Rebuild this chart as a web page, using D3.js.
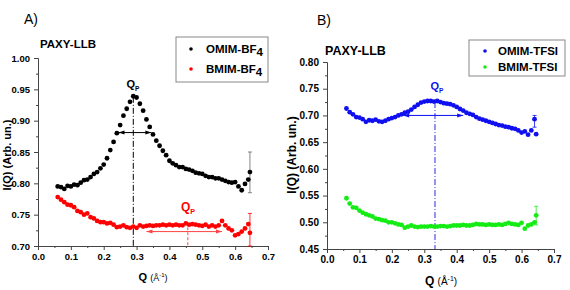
<!DOCTYPE html>
<html>
<head>
<meta charset="utf-8">
<script src="https://cdn.jsdelivr.net/npm/d3@7"></script>
<style>
  body { margin: 0; background: #fff; }
  text { font-family: "Liberation Sans", Arial, sans-serif; }
</style>
</head>
<body>
<div id="chart"></div>
<script>
// Q values (Å^-1), shared by all four curves
const q = [0.06, 0.07, 0.08, 0.09, 0.10, 0.11, 0.12, 0.13, 0.14, 0.15,
  0.16, 0.17, 0.18, 0.19, 0.20, 0.21, 0.22, 0.23, 0.24, 0.25,
  0.26, 0.27, 0.28, 0.29, 0.30, 0.31, 0.32, 0.33, 0.34, 0.35,
  0.36, 0.37, 0.38, 0.39, 0.40, 0.41, 0.42, 0.43, 0.44, 0.45,
  0.46, 0.47, 0.48, 0.49, 0.50, 0.51, 0.52, 0.53, 0.54, 0.55,
  0.56, 0.57, 0.58, 0.59, 0.60, 0.61, 0.62, 0.63, 0.64, 0.645];

// panel A
const omimBF4 = [0.795, 0.794, 0.791, 0.796, 0.795, 0.798, 0.797, 0.801, 0.805, 0.806,
  0.810, 0.815, 0.818, 0.824, 0.830, 0.840, 0.853, 0.866, 0.880, 0.893,
  0.908, 0.919, 0.930, 0.939, 0.937, 0.927, 0.916, 0.902, 0.890, 0.878,
  0.868, 0.860, 0.852, 0.845, 0.836, 0.832, 0.829, 0.826, 0.826, 0.823,
  0.822, 0.820, 0.817, 0.816, 0.815, 0.812, 0.810, 0.810, 0.808, 0.808,
  0.806, 0.804, 0.802, 0.801, 0.802, 0.795, 0.789, 0.799, 0.806, 0.818];
const bmimBF4 = [0.778, 0.774, 0.770, 0.766, 0.765, 0.762, 0.756, 0.754, 0.750, 0.752,
  0.746, 0.744, 0.740, 0.738, 0.738, 0.736, 0.737, 0.734, 0.730, 0.731,
  0.733, 0.730, 0.729, 0.731, 0.729, 0.733, 0.731, 0.732, 0.733, 0.732,
  0.733, 0.733, 0.734, 0.733, 0.734, 0.733, 0.734, 0.733, 0.733, 0.736,
  0.734, 0.735, 0.734, 0.733, 0.732, 0.734, 0.731, 0.733, 0.731, 0.733,
  0.740, 0.733, 0.728, 0.725, 0.717, 0.719, 0.723, 0.728, 0.735, 0.721];

// panel B
const omimTFSI = [0.713, 0.706, 0.702, 0.697, 0.696, 0.693, 0.688, 0.691, 0.690, 0.692,
  0.689, 0.688, 0.690, 0.693, 0.695, 0.697, 0.700, 0.702, 0.705, 0.707,
  0.711, 0.716, 0.720, 0.724, 0.726, 0.727, 0.727, 0.726, 0.727, 0.725,
  0.723, 0.722, 0.721, 0.719, 0.716, 0.712, 0.709, 0.705, 0.703, 0.701,
  0.697, 0.694, 0.692, 0.690, 0.688, 0.686, 0.684, 0.682, 0.681, 0.679,
  0.678, 0.676, 0.675, 0.672, 0.668, 0.670, 0.664, 0.672, 0.693, 0.665];
const bmimTFSI = [0.545, 0.535, 0.528, 0.527, 0.522, 0.518, 0.515, 0.513, 0.511, 0.507,
  0.506, 0.504, 0.503, 0.500, 0.500, 0.498, 0.496, 0.495, 0.490, 0.492,
  0.494, 0.492, 0.491, 0.492, 0.492, 0.492, 0.493, 0.492, 0.492, 0.493,
  0.493, 0.492, 0.493, 0.494, 0.494, 0.494, 0.495, 0.494, 0.494, 0.495,
  0.497, 0.496, 0.496, 0.495, 0.496, 0.495, 0.495, 0.496, 0.495, 0.497,
  0.499, 0.497, 0.496, 0.495, 0.499, 0.488, 0.494, 0.496, 0.500, 0.513];

// error bars on the last points [q, low, high]
const errA = [[0.645, 0.785, 0.850], [0.645, 0.700, 0.752]];
const errB = [[0.64, 0.678, 0.700], [0.645, 0.495, 0.530]];

const xTicks = [0.0, 0.1, 0.2, 0.3, 0.4, 0.5, 0.6, 0.7];
const yTicksA = [0.70, 0.75, 0.80, 0.85, 0.90, 0.95, 1.00];
const yTicksB = [0.45, 0.50, 0.55, 0.60, 0.65, 0.70, 0.75, 0.80];

const svg = d3.select("#chart").append("svg")
  .attr("width", 570).attr("height", 290);

function drawPanel(p) {
  const x = d3.scaleLinear().domain([0, 0.7]).range([p.left, p.right]);
  const y = d3.scaleLinear().domain(p.yDomain).range([p.bottom, p.top]);
  const g = svg.append("g");

  // axes
  const xa = g.append("g").attr("transform", `translate(0,${p.bottom})`)
    .call(d3.axisBottom(x).tickValues(xTicks).tickFormat(d3.format(".1f")).tickSizeOuter(0).tickSize(4));
  g.append("g").attr("transform", `translate(0,${p.bottom})`)
    .call(d3.axisBottom(x).tickValues(xTicks.slice(0, -1).map(d => d + 0.05)).tickFormat("").tickSize(2))
    .select(".domain").remove();
  const ya = g.append("g").attr("transform", `translate(${p.left},0)`)
    .call(d3.axisLeft(y).tickValues(p.yTicks).tickFormat(d3.format(".2f")).tickSizeOuter(0).tickSize(4));
  g.append("g").attr("transform", `translate(${p.left},0)`)
    .call(d3.axisLeft(y).tickValues(p.yTicks.slice(0, -1).map(d => d + 0.025)).tickFormat("").tickSize(2))
    .select(".domain").remove();
  g.selectAll(".domain, .tick line").attr("stroke", "#444");
  xa.selectAll("text").style("font-size", p.tickFont + "px").style("font-weight", "bold").attr("fill", "#000");
  ya.selectAll("text").style("font-size", p.tickFont + "px").style("font-weight", "bold").attr("fill", "#000")
    .attr("dx", "-1");

  // annotations under the data
  p.vlines.forEach(v => {
    g.append("line")
      .attr("x1", x(v.q)).attr("x2", x(v.q))
      .attr("y1", y(v.from)).attr("y2", p.bottom)
      .attr("stroke", v.color).attr("stroke-width", 1)
      .attr("stroke-dasharray", v.dash);
  });
  p.arrows.forEach(a => {
    const y0 = y(a.v), x1 = x(a.q1), x2 = x(a.q2);
    g.append("line").attr("x1", x1).attr("x2", x2).attr("y1", y0).attr("y2", y0)
      .attr("stroke", a.color).attr("stroke-width", 1);
    [[x1, 1], [x2, -1]].forEach(([xx, s]) => {
      g.append("path")
        .attr("d", `M${xx},${y0}L${xx + s * 6},${y0 - 2}L${xx + s * 6},${y0 + 2}Z`)
        .attr("fill", a.color);
    });
  });

  // error bars
  p.errs.forEach((e, i) => {
    const c = p.series[i].color === "#000" ? "#666" : p.series[i].color;
    const xx = x(e[0]);
    g.append("line").attr("x1", xx).attr("x2", xx).attr("y1", y(e[1])).attr("y2", y(e[2]))
      .attr("stroke", c).attr("stroke-width", 0.8);
    [e[1], e[2]].forEach(v => g.append("line").attr("x1", xx - 2).attr("x2", xx + 2)
      .attr("y1", y(v)).attr("y2", y(v)).attr("stroke", c).attr("stroke-width", 0.8));
  });

  // data points
  p.series.forEach(s => {
    g.append("g").selectAll("circle")
      .data(q.map((d, i) => [d, s.values[i]]))
      .join("circle")
      .attr("cx", d => x(d[0])).attr("cy", d => y(d[1]))
      .attr("r", 2.4).attr("fill", s.color);
  });

  // Qp labels
  p.qp.forEach(t => {
    const tx = g.append("text").attr("x", t.x).attr("y", t.y)
      .attr("text-anchor", "middle").attr("fill", t.color)
      .style("font-size", t.size + "px").style("font-weight", "bold");
    tx.append("tspan").text("Q");
    tx.append("tspan").attr("dy", 3).style("font-size", (t.size * 0.6) + "px").text("P");
  });

  // panel letter and title
  g.append("text").attr("x", p.letter[0]).attr("y", p.letter[1])
    .style("font-size", "14px").text(p.letterText);
  g.append("text").attr("x", p.title[0]).attr("y", p.title[1])
    .style("font-size", p.titleFont + "px").style("font-weight", "bold").text("PAXY-LLB");

  // axis titles
  g.append("text")
    .attr("transform", `translate(${p.yTitle[0]},${p.yTitle[1]}) rotate(-90)`)
    .attr("text-anchor", "middle")
    .style("font-size", p.axisFont + "px").style("font-weight", "bold")
    .text("I(Q) (Arb. un.)");
  const xt = g.append("text").attr("x", p.xTitle[0]).attr("y", p.xTitle[1])
    .attr("text-anchor", "middle");
  xt.append("tspan").style("font-size", p.axisFont + "px").style("font-weight", "bold").text("Q ");
  xt.append("tspan").style("font-size", (p.axisFont - 2) + "px").text("(Å");
  xt.append("tspan").attr("dy", -4).style("font-size", (p.axisFont - 5) + "px").text("-1");
  xt.append("tspan").attr("dy", 4).style("font-size", (p.axisFont - 2) + "px").text(")");

  // legend
  const L = p.legend;
  g.append("rect").attr("x", L.x).attr("y", L.y).attr("width", L.w).attr("height", L.h)
    .attr("fill", "#fff").attr("stroke", "#888").attr("stroke-width", 1);
  p.series.forEach((s, i) => {
    const ry = L.y + L.row0 + i * L.dy;
    g.append("circle").attr("cx", L.x + L.mx).attr("cy", ry).attr("r", 1.8).attr("fill", s.color);
    const t = g.append("text").attr("x", L.x + L.tx).attr("y", ry + L.font * 0.36)
      .style("font-size", L.font + "px").style("font-weight", "bold");
    t.append("tspan").text(s.name);
    if (s.sub) t.append("tspan").attr("dy", 3).text(s.sub);
  });
}

drawPanel({
  left: 38, right: 268, top: 58, bottom: 246,
  yDomain: [0.70, 1.00], yTicks: yTicksA, tickFont: 9.5,
  series: [
    { name: "OMIM-BF", sub: "4", color: "#000", values: omimBF4 },
    { name: "BMIM-BF", sub: "4", color: "#f00", values: bmimBF4 }
  ],
  errs: errA,
  vlines: [
    { q: 0.29, from: 0.938, color: "#000", dash: "6,2,1,2" },
    { q: 0.456, from: 0.73, color: "#f44", dash: "3,2" }
  ],
  arrows: [
    { q1: 0.245, q2: 0.345, v: 0.881, color: "#000" },
    { q1: 0.33, q2: 0.56, v: 0.723, color: "#f44" }
  ],
  qp: [
    { x: 133, y: 88, color: "#000", size: 11 },
    { x: 188, y: 211, color: "#f00", size: 12 }
  ],
  letter: [24, 24], letterText: "A)",
  title: [40, 48], titleFont: 11.5,
  yTitle: [11, 155], xTitle: [153, 281], axisFont: 11,
  legend: { x: 176, y: 37, w: 92, h: 45, row0: 12, dy: 20, mx: 15, tx: 30, font: 11.5 }
});

drawPanel({
  left: 327, right: 554, top: 62, bottom: 249,
  yDomain: [0.45, 0.80], yTicks: yTicksB, tickFont: 10,
  series: [
    { name: "OMIM-TFSI", color: "#0f0ff0", values: omimTFSI },
    { name: "BMIM-TFSI", color: "#14ec14", values: bmimTFSI }
  ],
  errs: errB,
  vlines: [
    { q: 0.333, from: 0.725, color: "#2a2ae0", dash: "6,2,1,2" }
  ],
  arrows: [
    { q1: 0.235, q2: 0.42, v: 0.700, color: "#0f0ff0" }
  ],
  qp: [
    { x: 437, y: 90, color: "#0f0ff0", size: 11 }
  ],
  letter: [317, 25], letterText: "B)",
  title: [325, 55], titleFont: 12.5,
  yTitle: [296, 155], xTitle: [441, 285], axisFont: 12,
  legend: { x: 469, y: 40, w: 96, h: 36, row0: 11, dy: 16, mx: 16, tx: 29, font: 11.5 }
});
</script>
</body>
</html>
